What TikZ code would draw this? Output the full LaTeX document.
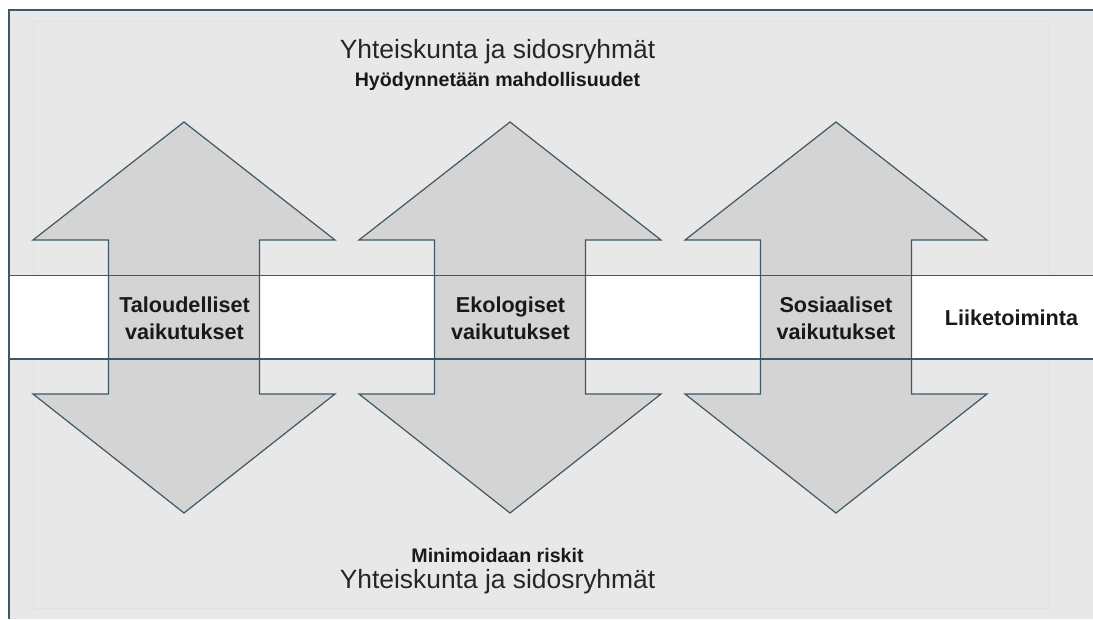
\documentclass[tikz,border=0pt]{standalone}
\usepackage{fontspec}
\setmainfont{Liberation Sans}
\usetikzlibrary{positioning}

\definecolor{framecol}{HTML}{3F5866}
\definecolor{bgcol}{HTML}{E8E8E8}
\definecolor{ghostcol}{HTML}{E2E2E2}
\definecolor{arrowcol}{HTML}{D4D4D4}

\begin{document}
\begin{tikzpicture}[x=0.75pt,y=-0.75pt]
		\tikzstyle{frame}=[draw=framecol,line width=1pt]
		\tikzstyle{bigarrow}=[fill=arrowcol,draw=framecol,line width=0.9pt,line join=miter]
		\tikzstyle{title}=[font=\fontsize{19.8}{24}\selectfont,text=black!85]
		\tikzstyle{sub}=[font=\fontsize{14.7}{18}\selectfont\bfseries,text=black!90]
		\tikzstyle{impact}=[font=\fontsize{16.2}{20.5}\selectfont\bfseries,align=center,text=black!90]
		\useasboundingbox (0,0) rectangle (1093,619);
		% background and white business band
		\fill[bgcol] (9,10) rectangle (1093,619);
		\draw[ghostcol,line width=0.6pt] (33,21) rectangle (1048,608);
		\fill[white] (9,275.5) rectangle (1093,359);
		\draw[frame] (1093,10) -- (9,10) -- (9,619);
		% double arrows
		\foreach \c in {184,510,836}{
			\draw[bigarrow] (\c,122) -- (\c+151,240) -- (\c+75.5,240) -- (\c+75.5,394)
				-- (\c+151,394) -- (\c,513) -- (\c-151,394) -- (\c-75.5,394)
				-- (\c-75.5,240) -- (\c-151,240) -- cycle;
		}
		\draw[frame] (9,275.5) -- (1093,275.5);
		\draw[frame] (9,359) -- (1093,359);
		% texts
		\node[title] (soctop) at (497.5,52) {Yhteiskunta ja sidosryhmät};
		\node[sub] (benefit) at (497.5,81) {Hyödynnetään mahdollisuudet};
		\node[sub] (risk) at (497.5,555) {Minimoidaan riskit};
		\node[title] (socbottom) at (497.5,582) {Yhteiskunta ja sidosryhmät};
		\node[impact] (talous) at (184.5,318) {Taloudelliset\\vaikutukset};
		\node[impact] (ekologia) at (510.5,318) {Ekologiset\\vaikutukset};
		\node[impact] (sosiaali) at (836,318) {Sosiaaliset\\vaikutukset};
		\node[impact] (business) at (1011.5,318) {Liiketoiminta};
\end{tikzpicture}
\end{document}
